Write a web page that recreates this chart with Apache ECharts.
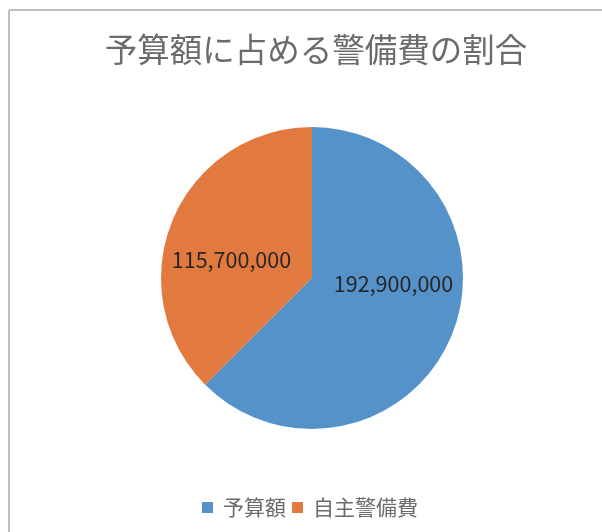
<!DOCTYPE html>
<html><head><meta charset="utf-8">
<script src="https://cdn.jsdelivr.net/npm/echarts@6/dist/echarts.min.js"></script>
<style>html,body{margin:0;padding:0;background:#fff}#c{width:602px;height:532px}</style>
</head><body><div id="c"></div>
<script>
const titleText = '予算額に占める警備費の割合';
const categories = ['予算額', '自主警備費'];
const values = [192900000, 115700000];
const colors = ['#5592C9', '#E27A40'];
const labelOffsets = [[9, -24], [-8, 12]];

const chart = echarts.init(document.getElementById('c'));
const fmt = v => v.toString().replace(/\B(?=(\d{3})+(?!\d))/g, ',');
chart.setOption({
  animation: false,
  graphic: [
    {type: 'line', shape: {x1: 9, y1: 10, x2: 602, y2: 10}, style: {stroke: '#BFBFBF', lineWidth: 2}},
    {type: 'line', shape: {x1: 9, y1: 10, x2: 9, y2: 532}, style: {stroke: '#BFBFBF', lineWidth: 2}}
  ],
  title: {
    text: titleText, left: 311, textAlign: 'center', top: 28,
    textStyle: {fontFamily: 'Noto Sans CJK JP', fontSize: 32.5, fontWeight: 'normal', color: '#6B6B6B'}
  },
  legend: {
    bottom: 9, left: 197, itemWidth: 11, itemHeight: 11, itemGap: 6,
    icon: 'rect',
    textStyle: {fontFamily: 'Noto Sans CJK JP', fontSize: 21, color: '#6B6B6B', padding: [0, 0, 0, 5]},
    data: categories
  },
  series: [{
    type: 'pie', center: [312, 278], radius: 151, startAngle: 90, clockwise: true,
    data: categories.map((n, i) => ({
      name: n, value: values[i], itemStyle: {color: colors[i]},
      label: {offset: labelOffsets[i]}
    })),
    itemStyle: {borderColor: '#fff', borderWidth: 0},
    label: {
      position: 'inside', formatter: p => fmt(p.value),
      fontFamily: 'Noto Sans CJK JP', fontSize: 21.5, color: '#262626'
    },
    labelLine: {show: false}
  }]
});
</script></body></html>
